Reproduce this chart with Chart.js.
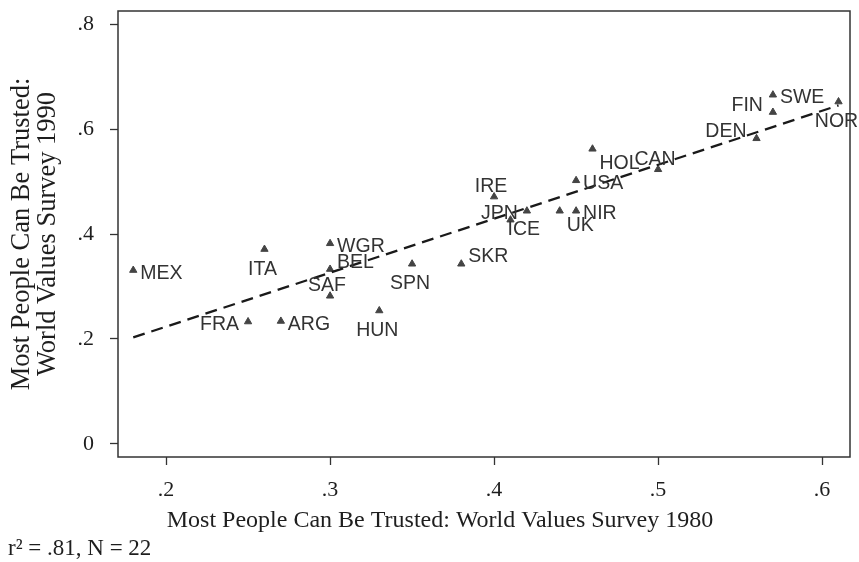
<!DOCTYPE html>
<html>
<head>
<meta charset="utf-8">
<script src="https://cdn.jsdelivr.net/npm/chart.js@4.4.1/dist/chart.umd.min.js"></script>
<style>
  html, body { margin: 0; padding: 0; background: #fff; }
</style>
</head>
<body>
<canvas id="trust-chart" width="859" height="562"></canvas>
<script>
'use strict';

/* ─── Data ─── */
const countries  = ['MEX','ITA','FRA','ARG','WGR','BEL','SAF','SPN','SKR','HUN','IRE',
                    'JPN','ICE','UK','NIR','USA','HOL','CAN','DEN','FIN','SWE','NOR'];
const trust1980  = [0.18, 0.26, 0.25, 0.27, 0.30, 0.30, 0.30, 0.35, 0.38, 0.33, 0.40,
                    0.42, 0.41, 0.44, 0.45, 0.45, 0.46, 0.50, 0.56, 0.57, 0.57, 0.61];
const trust1990  = [0.331, 0.371, 0.233, 0.234, 0.382, 0.333, 0.282, 0.343, 0.343, 0.254, 0.471,
                    0.444, 0.427, 0.444, 0.444, 0.502, 0.562, 0.523, 0.582, 0.632, 0.665, 0.652];
// clock position of each marker label (3 = right, 6 = below, 9 = left, 12 = above)
const labelClock = [3, 6, 9, 3, 3, 2, 12, 6, 2, 6, 12,
                    9, 5, 4, 3, 3, 4, 12, 10, 10, 3, 6];
const fitX = [0.18, 0.61];
const fitY = [0.203, 0.645];
const xTicks      = [0.2, 0.3, 0.4, 0.5, 0.6];
const xTickLabels = ['.2', '.3', '.4', '.5', '.6'];
const yTicks      = [0, 0.2, 0.4, 0.6, 0.8];
const yTickLabels = ['0', '.2', '.4', '.6', '.8'];
const xTitle   = 'Most People Can Be Trusted: World Values Survey 1980';
const yTitle   = ['Most People Can Be Trusted:', 'World Values Survey 1990'];
const footnote = 'r\u00B2 = .81, N = 22';

/* ─── Styles ─── */
const SERIF = '"Liberation Serif", "Times New Roman", serif';
const SANS  = '"Liberation Sans", Arial, sans-serif';
const INK   = '#1e1e1e';

const CLOCK = {
  2:  { align: 'left',   dx: 7,   dy: -7 },
  3:  { align: 'left',   dx: 7,   dy: 3 },
  4:  { align: 'left',   dx: 7,   dy: 15 },
  5:  { align: 'left',   dx: -3,  dy: 10 },
  6:  { align: 'center', dx: -2,  dy: 20 },
  9:  { align: 'right',  dx: -9,  dy: 3 },
  10: { align: 'right',  dx: -10, dy: -7 },
  12: { align: 'center', dx: -3,  dy: -10 }
};

/* ─── Plugins ─── */
const frameAndLabels = {
  id: 'frameAndLabels',
  afterDatasetsDraw(chart) {
    const { ctx, chartArea: a } = chart;
    ctx.save();
    ctx.strokeStyle = '#333';
    ctx.lineWidth = 1.5;
    ctx.strokeRect(a.left, a.top, a.right - a.left, a.bottom - a.top);

    // marker labels
    const meta = chart.getDatasetMeta(1);
    ctx.font = '19.5px ' + SANS;
    ctx.fillStyle = '#333';
    ctx.textBaseline = 'middle';
    meta.data.forEach((pt, i) => {
      const c = CLOCK[labelClock[i]];
      ctx.textAlign = c.align;
      ctx.fillText(countries[i], pt.x + c.dx, pt.y + c.dy);
    });

    // x title sits a bit left of the plot centre, as in the original
    ctx.fillStyle = INK;
    ctx.font = '24px ' + SERIF;
    ctx.textAlign = 'center';
    ctx.textBaseline = 'alphabetic';
    ctx.fillText(xTitle, 440, 527);

    ctx.font = '23px ' + SERIF;
    ctx.textAlign = 'left';
    ctx.fillText(footnote, 8, 555);
    ctx.restore();
  }
};

/* ─── Chart ─── */
const fitLine = fitX.map((x, i) => ({ x, y: fitY[i] }));
const points  = trust1980.map((x, i) => ({ x, y: trust1990[i] }));

new Chart(document.getElementById('trust-chart'), {
  type: 'scatter',
  data: {
    datasets: [
      {
        type: 'line',
        data: fitLine,
        borderColor: '#1a1a1a',
        borderWidth: 2.3,
        borderDash: [12, 7],
        pointRadius: 0,
        fill: false
      },
      {
        data: points,
        pointStyle: 'triangle',
        pointRadius: 4.2,
        backgroundColor: '#444',
        borderColor: '#444',
        borderWidth: 1
      }
    ]
  },
  options: {
    responsive: false,
    animation: false,
    layout: { padding: { top: 11, right: 9, bottom: 0, left: 0 } },
    plugins: { legend: { display: false }, tooltip: { enabled: false } },
    scales: {
      x: {
        type: 'linear',
        min: 0.1707,
        max: 0.617,
        bounds: 'data',
        afterBuildTicks: s => { s.ticks = xTicks.map(v => ({ value: v })); },
        afterFit: s => { s.height = 105; s.paddingLeft = 0; s.paddingRight = 0; },
        border: { display: false },
        grid: { drawOnChartArea: false, drawTicks: true, tickLength: 8, tickColor: '#333', tickWidth: 1.3 },
        ticks: {
          padding: 12,
          color: INK,
          font: { family: SERIF, size: 22 },
          maxRotation: 0,
          autoSkip: false,
          callback: v => xTickLabels[xTicks.indexOf(v)]
        },
        title: { display: false }
      },
      y: {
        type: 'linear',
        min: -0.0248,
        max: 0.8248,
        bounds: 'data',
        afterBuildTicks: s => { s.ticks = yTicks.map(v => ({ value: v })); },
        afterFit: s => { s.width = 118; s.paddingTop = 0; s.paddingBottom = 0; },
        border: { display: false },
        grid: { drawOnChartArea: false, drawTicks: true, tickLength: 8, tickColor: '#333', tickWidth: 1.3 },
        ticks: {
          padding: 16,
          color: INK,
          font: { family: SERIF, size: 22 },
          autoSkip: false,
          callback: v => yTickLabels[yTicks.indexOf(v)]
        },
        title: {
          display: true,
          text: yTitle,
          color: INK,
          font: { family: SERIF, size: 26.5, lineHeight: 0.98 },
          padding: { top: 9.5, bottom: 0 }
        }
      }
    }
  },
  plugins: [frameAndLabels]
});
</script>
</body>
</html>
